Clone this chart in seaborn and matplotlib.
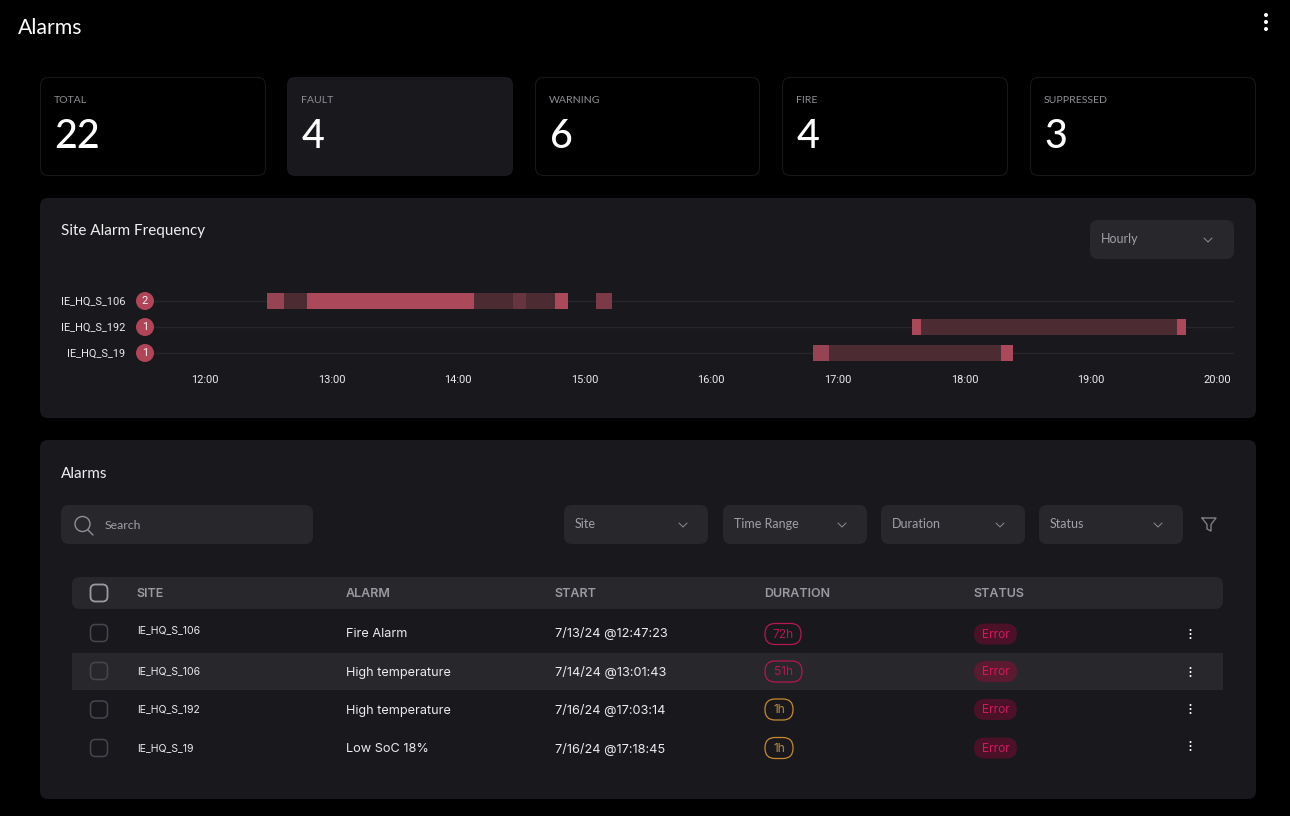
import matplotlib
matplotlib.use("Agg")
import matplotlib.pyplot as plt
from matplotlib.patches import FancyBboxPatch, Ellipse, Rectangle
import seaborn as sns

PAGE_TITLE = "Alarms"
STAT_LABELS = ["TOTAL", "FAULT", "WARNING", "FIRE", "SUPPRESSED"]
STAT_VALUES = [22, 4, 6, 4, 3]

SITES = ["IE_HQ_S_106", "IE_HQ_S_192", "IE_HQ_S_19"]
SITE_COUNTS = [2, 1, 1]
HOUR_TICKS = [12, 13, 14, 15, 16, 17, 18, 19, 20]
HOUR_LABELS = ["12:00", "13:00", "14:00", "15:00", "16:00", "17:00", "18:00", "19:00", "20:00"]

# (start hour, end hour, intensity level) per site
S106_START = [12.49, 12.627, 12.807, 14.127, 14.437, 14.537, 14.767, 15.087]
S106_END = [12.627, 12.807, 14.127, 14.437, 14.537, 14.767, 14.872, 15.212]
S106_LEVEL = [4, 1, 5, 1, 2, 1, 5, 3]
S192_START = [17.587, 17.657, 19.677]
S192_END = [17.657, 19.677, 19.747]
S192_LEVEL = [5, 1, 5]
S19_START = [16.805, 16.932, 18.287]
S19_END = [16.932, 18.287, 18.382]
S19_LEVEL = [4, 1, 5]

COLUMNS = ["SITE", "ALARM", "START", "DURATION", "STATUS"]
ROW_SITES = ["IE_HQ_S_106", "IE_HQ_S_106", "IE_HQ_S_192", "IE_HQ_S_19"]
ROW_ALARMS = ["Fire Alarm", "High temperature", "High temperature", "Low SoC 18%"]
ROW_STARTS = ["7/13/24 @12:47:23", "7/14/24 @13:01:43", "7/16/24 @17:03:14", "7/16/24 @17:18:45"]
ROW_DURATIONS = ["72h", "51h", "1h", "1h"]
ROW_STATUS = ["Error", "Error", "Error", "Error"]
FILTERS = ["Site", "Time Range", "Duration", "Status"]

sns.set_theme(style="dark", rc={"figure.facecolor": "#000000", "savefig.facecolor": "#000000"})
plt.rcParams["font.family"] = ["Lato", "DejaVu Sans"]

PANEL = "#18181d"
CONTROL = "#27272c"
LEVEL_COLORS = {1: "#4d2b33", 2: "#673540", 3: "#7a3a48", 4: "#964353", 5: "#ab4859"}

W, H = 1290, 816
fig = plt.figure(figsize=(W / 100, H / 100), dpi=100, facecolor="#000000")
bg = fig.add_axes([0, 0, 1, 1], zorder=0)
bg.set_xlim(0, W)
bg.set_ylim(H, 0)
bg.axis("off")


def px(size):
    return size * 0.72


def box(x0, y0, x1, y1, fc, ec="none", r=8, lw=1.0, z=1):
    p = FancyBboxPatch((x0, y0), x1 - x0, y1 - y0, boxstyle=f"round,pad=0,rounding_size={r}",
                       fc=fc, ec=ec, lw=lw, zorder=z)
    bg.add_patch(p)


def label(x, y, s, size, color="#ffffff", fam="Inter", ha="left", weight="normal", z=5):
    bg.text(x, y, s, fontsize=px(size), color=color, family=fam, ha=ha, va="center",
            fontweight=weight, zorder=z)


def chevron(cx, cy, color="#8e8e94"):
    bg.plot([cx - 4, cx, cx + 4], [cy - 2, cy + 2, cy - 2], color=color, lw=0.7, zorder=5)


def dots(cx, cy, gap, r, color="#ffffff"):
    for d in (-gap, 0, gap):
        bg.add_patch(Ellipse((cx, cy + d), r * 2, r * 2, fc=color, ec="none", zorder=5))


# Header
label(18, 28, PAGE_TITLE, 21.3, fam="Lato")
dots(1266, 22, 7, 2.0)

# KPI cards
card_x = [(40, 266), (287, 513), (535, 760), (782, 1008), (1030, 1256)]
for i, ((x0, x1), name, val) in enumerate(zip(card_x, STAT_LABELS, STAT_VALUES)):
    if i == 1:
        box(x0, 77, x1, 176, PANEL)
    else:
        box(x0 + 0.5, 77.5, x1 - 0.5, 175.5, "#000000", ec="#17171b", lw=0.8)
    label(x0 + 14, 100.5, name, 10.5, color="#8e8e94", fam="Lato")
    label(x0 + 14.5, 137, str(val), 39.5, fam="Lato", weight="medium")

# Panels
box(40, 198, 1256, 418, PANEL)
box(40, 440, 1256, 799, PANEL)
label(61, 231.5, "Site Alarm Frequency", 15.3, color="#f0f0f0", fam="Lato")
box(1090, 220, 1234, 259, CONTROL)
label(1101, 239, "Hourly", 12.5, color="#a0a0a6", fam="Lato")
chevron(1208, 240)

# Timeline
left, right, top, bottom = 154, 1234, 288, 366
ax = fig.add_axes([left / W, 1 - bottom / H, (right - left) / W, (bottom - top) / H], zorder=2)
ax.patch.set_alpha(0)
segments = [(0, S106_START, S106_END, S106_LEVEL),
            (1, S192_START, S192_END, S192_LEVEL),
            (2, S19_START, S19_END, S19_LEVEL)]
for row, starts, ends, levels in segments:
    for a, b, lev in zip(starts, ends, levels):
        sns.barplot(x=[b - a], y=[row], orient="h", native_scale=True, left=a, width=0.6,
                    color=LEVEL_COLORS[lev], saturation=1, errorbar=None, ax=ax, zorder=3,
                    linewidth=0)
ax.set_xlim(12 + (left - 204.9) / 126.6, 12 + (right - 204.9) / 126.6)
ax.set_ylim(2.5, -0.5)
ax.set_xlabel("")
ax.set_ylabel("")
ax.grid(False)
for s in ax.spines.values():
    s.set_visible(False)
for r in range(len(SITES)):
    ax.axhline(r, color="#26262b", lw=1, zorder=1)
ax.set_xticks(HOUR_TICKS, HOUR_LABELS)
ax.set_yticks(range(len(SITES)), SITES)
ax.tick_params(axis="x", length=0, pad=px(9), colors="#ececee", labelsize=px(11))
ax.tick_params(axis="y", length=0, pad=px(29), colors="#ececee", labelsize=px(11))
for t in ax.get_xticklabels() + ax.get_yticklabels():
    t.set_family("Roboto")
for y, n in zip([301, 327, 353], SITE_COUNTS):
    bg.add_patch(Ellipse((145, y), 18, 18, fc="#b04558", ec="none", zorder=3))
    label(145, y + 0.5, str(n), 11, color="#f4f4f4", fam="Roboto", ha="center")

# Alarm panel
label(61, 474, "Alarms", 15.3, color="#f0f0f0", fam="Lato")
box(61, 505, 313, 544, CONTROL)
bg.add_patch(Ellipse((82.5, 524), 15, 15, fc="none", ec="#8e8e94", lw=1.0, zorder=5))
bg.plot([88, 93], [530, 535], color="#8e8e94", lw=1.0, zorder=5)
label(105, 525.5, "Search", 12.3, color="#a0a0a6", fam="Lato")
for (x0, x1), name in zip([(564, 708), (723, 867), (881, 1025), (1039, 1183)], FILTERS):
    box(x0, 505, x1, 544, CONTROL)
    label(x0 + 11, 523.5, name, 12.5, color="#a0a0a6", fam="Lato")
    chevron(x1 - 25, 525)
bg.plot([1202, 1216, 1211, 1211, 1207, 1207, 1202], [518, 518, 524.5, 531, 529, 524.5, 518],
        color="#7e7e84", lw=1.0, zorder=5)

# Table
box(72, 577, 1223, 609, CONTROL)
bg.add_patch(Rectangle((72, 653), 1151, 37, fc="#27272c", ec="none", zorder=2))
box(90.5, 584.5, 107.5, 601.5, "none", ec="#9a9aa0", r=5, lw=1.3, z=5)
col_x = [137, 346, 555, 765, 974]
for x, c in zip(col_x, COLUMNS):
    label(x - 0.5, 594, c, 12.5, color="#9a9aa0", weight="semibold")
site_y = [630.5, 671.5, 709.5, 748.5]
text_y = [633.7, 672.7, 710.7, 749]
check_y = [633, 671, 709.5, 748]
pill_y = [634, 671.5, 709.5, 748]
dot_y = [634, 672, 709, 746]
for i in range(len(ROW_SITES)):
    box(90.5, check_y[i] - 8.5, 107.5, check_y[i] + 8.5, "none", ec="#46464c", r=5, lw=1.1, z=5)
    label(137, site_y[i], ROW_SITES[i], 10.5, color="#ececee")
    label(346, text_y[i], ROW_ALARMS[i], 12.7, color="#ececee")
    label(555, text_y[i], ROW_STARTS[i], 12.8, color="#ececee")
    hot = ROW_DURATIONS[i] != "1h"
    col = "#b5184f" if hot else "#c88a2e"
    wid = {"72h": 36, "51h": 37, "1h": 28}[ROW_DURATIONS[i]]
    box(765, pill_y[i] - 10.5, 765 + wid, pill_y[i] + 10.5, "none", ec=col, r=10, lw=0.9, z=5)
    label(765 + wid / 2, pill_y[i] + 0.5, ROW_DURATIONS[i], 12, color="#b5184f" if hot else "#b98a3e", ha="center")
    box(974, pill_y[i] - 10.5, 1017, pill_y[i] + 10.5, "#5a1a30" if i == 1 else "#4a1127", r=10.5, z=5)
    label(995.5, pill_y[i] + 0.5, ROW_STATUS[i], 12, color="#cf1a5c", ha="center", z=6)
    dots(1190.5, dot_y[i], 4, 1.0)

fig.savefig("out.png", dpi=100, facecolor="#000000")
